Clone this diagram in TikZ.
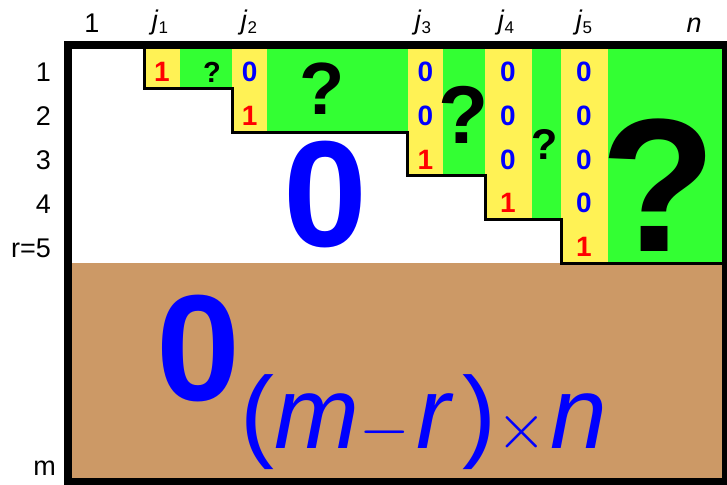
\RequirePackage{fix-cm}
\documentclass[tikz,border=0pt]{standalone}
\usepackage{fontspec}
\setmainfont{Liberation Sans}
\definecolor{pivgreen}{RGB}{51,255,51}
\definecolor{pivyellow}{RGB}{255,242,85}
\definecolor{zerobrown}{RGB}{204,153,102}
\newcommand{\jsub}[1]{\textit{j}\raisebox{-4.5pt}{\fontsize{17}{17}\selectfont #1}}
\begin{document}
\begin{tikzpicture}[x=1pt,y=-1pt,
	lab/.style={inner sep=0,font=\fontsize{27}{27}\selectfont},
	cell/.style={inner sep=0,font=\bfseries\fontsize{28}{28}\selectfont},
	qmark/.style={inner sep=0,font=\bfseries\fontsize{#1}{#1}\selectfont},
	bigzero/.style={inner sep=0,text=blue,font=\bfseries\fontsize{151}{151}\selectfont}]
\useasboundingbox (0,0) rectangle (727,484);
\def\xL{68};
\def\xR{725.7};
\def\yT{45};
\def\yB{482};
\def\rh{43.6};
\coordinate (TL) at (\xL,\yT);
	\coordinate (BR) at (\xR,\yB);
	\fill[zerobrown] (\xL,263) rectangle (BR);
	\fill[pivgreen] (144,\yT) |- (232,88.6) |- (407.5,132.2) |- (485,175.8) |- (561,219.4) |- (\xR,263) -- (\xR,\yT) -- cycle;
	\foreach \k/\xl/\xr in {1/144/180,2/232/267.3,3/407.5/443.3,4/485/531.7,5/561/608}	\fill[pivyellow] (\xl,\yT) rectangle (\xr,{\yT+\rh*\k});
	\draw[line width=3pt] (144,\yT) |- (232,88.6) |- (407.5,132.2) |- (485,175.8) |- (561,219.4) |- (\xR,263);
	\draw[line width=8pt] (TL) rectangle (BR);
	\node[lab,anchor=base] (col1) at (92,33) {1};
	\foreach \k/\xc in {1/160,2/249,3/423,4/506,5/584}	\node[lab,anchor=base] (colj\k) at (\xc,29.5) {\jsub{\k}};
	\node[lab,anchor=base] (coln) at (694,33) {\textit{n}};
	\foreach \i/\t in {1/1,2/2,3/3,4/4,5/r=5}	\node[lab,anchor=base east] (row\i) at (51,{82+43.75*(\i-1)}) {\t};
	\node[lab,anchor=base east] (rowm) at (56,475) {m};
	\foreach \k/\xc in {1/162,2/249.6,3/425.4,4/508,5/584}
	\foreach \i in {1,...,\k}{
		\ifnum\i<\k \def\dg{0}\def\dc{blue}\else\def\dg{1}\def\dc{red}\fi
		\node[cell,text=\dc] (e\k\i) at (\xc,{72+43.75*(\i-1)}) {\dg};
	}
	\node[qmark=29] (q1) at (212,72.5) {?};
	\node[qmark=74] (q2) at (321.7,88.3) {?};
	\node[qmark=82] (q3) at (464,115) {?};
	\node[qmark=43] (q4) at (544.7,144) {?};
	\node[qmark=190] (q5) at (658.3,185) {?};
	\node[bigzero] (zup) at (325.7,195) {0};
	\node[bigzero] (zlow) at (198.3,348.3) {0};
	\node[inner sep=0,anchor=base west,text=blue,font=\fontsize{102}{102}\selectfont] (zsub) at (240.3,448) {(\textit{m}{\fontsize{65}{65}\selectfont$-$}\kern7pt\textit{r}\kern8pt){\fontsize{65}{65}\selectfont$\times$}\kern4pt\textit{n}};
	\end{tikzpicture}
\end{document}
